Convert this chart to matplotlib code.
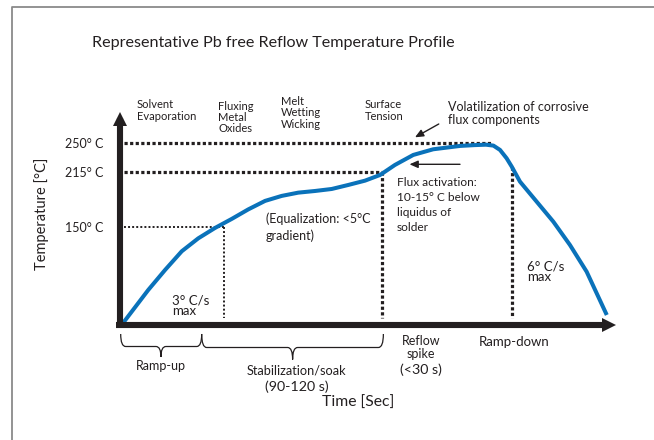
import matplotlib
matplotlib.use("Agg")
import matplotlib.pyplot as plt
import matplotlib.transforms as mtransforms
from matplotlib.path import Path
from matplotlib.patches import PathPatch, FancyArrowPatch
from matplotlib.lines import Line2D

# ---------------- data ----------------
time_s = [2.2, 17.3, 27.5, 37.6, 47.6, 57.8, 67.9, 77.9, 88.1, 98.2,
          108.2, 118.4, 128.5, 138.5, 148.7, 157.8, 166.8, 177.9, 190, 206.2,
          215, 222, 226.5, 230.5, 234.5, 237.6, 242.6, 252.7, 262.8, 272.9, 283, 295.2]
temp_c = [34.9, 74.1, 98.1, 120.5, 136, 148.5, 159.3, 170.7, 180.9, 186.9,
          190.8, 192.8, 195.2, 200, 205.2, 212, 224, 236, 242.8, 246.8,
          247.8, 248.3, 247.2, 242, 232, 222, 204, 180, 156, 128, 96, 44.1]

ref_levels = [150, 215, 250]
ref_labels = ["150° C", "215° C", "250° C"]
ref_end_times = [63.2, 158.8, 225.6]     # where each dotted level meets the curve
ramp_down_time = 237.6
ramp_down_temp = 222

phase_edges = [0.6, 49.7, 159.8]
phase_tips = [25, 104.8]

T_MIN, T_MAX = 32.1, 286.3
X_MAX = 300

W, H = 654, 440
FONT = ["Lato", "DejaVu Sans"]
plt.rcParams["font.family"] = FONT
INK = "#231f20"
BLUE = "#0a72ba"

fig = plt.figure(figsize=(W / 100, H / 100), dpi=100)
fig.patch.set_facecolor("white")

# axes placed so that origin is at px (119.7, 325), top at 113, right at 614.7
ax = fig.add_axes([119.7 / W, (H - 325) / H, 495 / W, (325 - 113) / H])
ax.set_xlim(0, X_MAX)
ax.set_ylim(T_MIN, T_MAX)
for s in ax.spines.values():
    s.set_visible(False)
ax.set_xticks([])
ax.set_yticks(ref_levels)
ax.set_yticklabels(ref_labels, fontsize=9, color=INK)
ax.tick_params(axis="y", length=0, pad=12)
ax.set_facecolor("none")


def px(x, y):
    return (x / W, 1 - y / H)


# figure border
fig.add_artist(Line2D([11.7 / W, 11.7 / W, 1.0], [0, 1 - 7.3 / H, 1 - 7.3 / H],
                      transform=fig.transFigure, color="#8a8a8a", lw=1.3))

# axis lines with arrow heads
ax.plot([0, 0], [-0.012, 0.975], transform=ax.transAxes, color=INK, lw=4.4,
        solid_capstyle="butt", clip_on=False, zorder=4)
ax.plot([-0.008, 0.985], [0, 0], transform=ax.transAxes, color=INK, lw=4.4,
        solid_capstyle="butt", clip_on=False, zorder=4)
ax.plot([0], [1 - 6 / 212], transform=ax.transAxes, marker="^", ms=9.5,
        color=INK, mew=0, clip_on=False, zorder=5)
ax.plot([1 - 6 / 495], [0], transform=ax.transAxes, marker=">", ms=9.5,
        color=INK, mew=0, clip_on=False, zorder=5)

# dotted reference lines
thick = dict(color=INK, lw=2.3, linestyle=(0, (1.0, 0.75)), zorder=2)
thin = dict(color=INK, lw=1.4, linestyle=(0, (1.0, 1.1)), zorder=2)
ax.plot([2.5, ref_end_times[0]], [ref_levels[0]] * 2, **thin)
ax.plot([2.5, ref_end_times[1]], [ref_levels[1]] * 2, **thick)
ax.plot([2.5, ref_end_times[2]], [ref_levels[2]] * 2, **thick)
ax.plot([ref_end_times[0]] * 2, [ref_levels[0], 40], **thin)
ax.plot([ref_end_times[1]] * 2, [ref_levels[1], 40], **thick)
ax.plot([ramp_down_time] * 2, [ramp_down_temp, 40], **thick)

# profile curve
ax.plot(time_s, temp_c, color=BLUE, lw=2.9, solid_joinstyle="round",
        solid_capstyle="butt", zorder=3, clip_on=False)

# braces below the time axis
btr = mtransforms.blended_transform_factory(ax.transData, fig.transFigure)


def brace(t0, t1, tip, y_top, y_mid, y_tip):
    r = 3.0
    yt, ym, yp = 1 - y_top / H, 1 - y_mid / H, 1 - y_tip / H
    verts = [(t0, yt), (t0, ym), (t0 + r, ym), (tip - r, ym), (tip, ym), (tip, yp),
             (tip, yp), (tip, ym), (tip + r, ym), (t1 - r, ym), (t1, ym), (t1, yt)]
    codes = [Path.MOVETO, Path.CURVE3, Path.CURVE3, Path.LINETO, Path.CURVE3, Path.CURVE3,
             Path.MOVETO, Path.CURVE3, Path.CURVE3, Path.LINETO, Path.CURVE3, Path.CURVE3]
    fig.add_artist(PathPatch(Path(verts, codes), transform=btr, fill=False,
                             edgecolor=INK, lw=0.9))


brace(phase_edges[0], phase_edges[1], phase_tips[0], 334, 346.5, 357)
brace(phase_edges[1], phase_edges[2], phase_tips[1], 334, 347.5, 359.5)

# ---------------- texts ----------------
def t(x, y, s, size, ha="left", va="center", ls=1.0, **kw):
    fig.text(*px(x, y), s, fontsize=size, ha=ha, va=va, color=INK,
             linespacing=ls, **kw)


t(92.5, 42.7, "Representative Pb free Reflow Temperature Profile", 11.6)
t(41.7, 214, "Temperature [°C]", 10.5, ha="center", rotation=90)
t(358, 403.3, "Time [Sec]", 11.3, ha="center")

t(137, 110.3, "Solvent\nEvaporation", 8, ls=1.1)
t(218.3, 117.8, "Fluxing\nMetal\nOxides", 8, ls=1.02)
t(280.8, 112.9, "Melt\nWetting\nWicking", 8, ls=1.05)
t(365, 110.3, "Surface\nTension", 8, ls=1.1)
t(447.5, 113.3, "Volatilization of corrosive\nflux components", 9, ls=1.1)

t(397, 204.7, "Flux activation:\n10-15° C below\nliquidus of\nsolder", 8.6, ls=1.45)
t(266, 226.8, "(Equalization: <5°C\ngradient)", 9, ls=1.42)
t(171.7, 305.8, "3° C/s\nmax", 9.5, ls=0.85)
t(527, 271.7, "6° C/s\nmax", 9.5, ls=0.78)

t(161, 365.7, "Ramp-up", 9, ha="center")
t(296.7, 370, "Stabilization/soak", 9.2, ha="center")
t(296.7, 386.7, "(90-120 s)", 10.3, ha="center")
t(421, 347.3, "Reflow\nspike", 9, ha="center", ls=1.1)
t(421, 370, "(<30 s)", 10.3, ha="center")
t(514.6, 341.7, "Ramp-down", 9.5, ha="center")

# annotation arrows
for (x0, y0), (x1, y1) in [((438.75, 124), (415, 137.3)), ((460, 164.3), (409.5, 164.3))]:
    fig.add_artist(FancyArrowPatch(px(x0, y0), px(x1, y1), transform=fig.transFigure,
                                   arrowstyle="-|>,head_length=5,head_width=2.2",
                                   color=INK, lw=1.0, shrinkA=0, shrinkB=0))

fig.savefig("out.png", dpi=100, facecolor="white")
